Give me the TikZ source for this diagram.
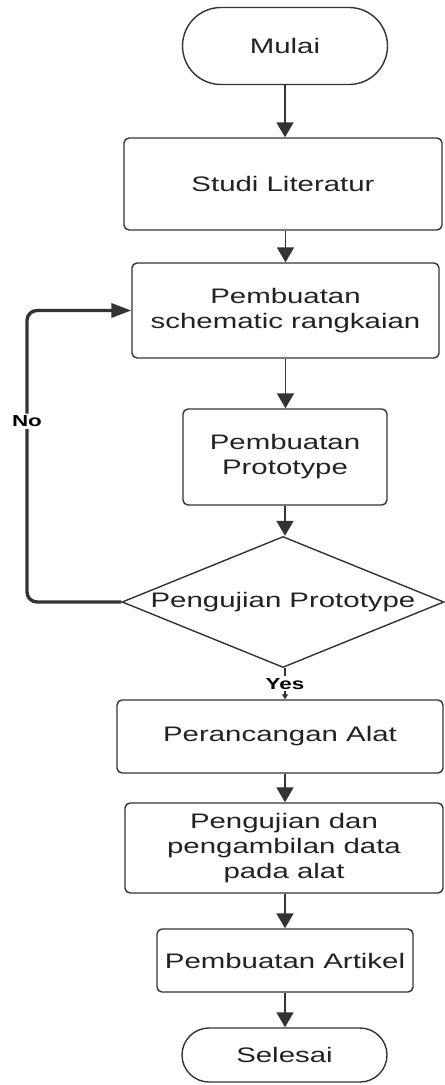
\documentclass[tikz,border=0pt]{standalone}
\usepackage{fontspec}
\setmainfont{Liberation Sans}[FakeStretch=1.4]
\usetikzlibrary{arrows.meta,shapes.geometric,shapes.misc}
\definecolor{flowline}{HTML}{333333}
\definecolor{flowtext}{HTML}{222222}
\tikzset{
  flowterm/.style={rounded rectangle,draw=flowline,line width=0.7pt,fill=white,text=flowtext,font=\fontsize{10.5}{12.5}\selectfont,inner sep=0pt},
  flowbox/.style={rectangle,draw=flowline,line width=0.7pt,rounded corners=2.5pt,fill=white,text=flowtext,font=\fontsize{10.5}{12.5}\selectfont,align=center,inner sep=0pt},
  flowdec/.style={diamond,aspect=2.46,draw=flowline,line width=0.7pt,fill=white,text=flowtext,font=\fontsize{10.5}{12.5}\selectfont,inner sep=0pt},
  flowarrow/.style={-{Triangle[length=7.5pt,width=8.5pt]},draw=flowline,line width=0.9pt},
  flowyes/.style={-{Triangle[length=2.5pt,width=3pt]},draw=flowline,line width=0.9pt},
  flowloop/.style={-{Triangle[length=10pt,width=7pt]},draw=flowline,line width=1.7pt,rounded corners=5pt},
  flowlabel/.style={fill=white,text=black,font=\fontsize{8}{9}\selectfont\bfseries,inner sep=1pt}
}

\begin{document}
\begin{tikzpicture}[x=0.5pt,y=-0.5pt]
\useasboundingbox (0,0) rectangle (444,1085);
\node[flowterm,minimum width=102.5pt,minimum height=38.5pt] (mulai) at (285,46) {Mulai};
\node[flowbox,minimum width=159pt,minimum height=46pt] (studi) at (283,184) {Studi Literatur};
\node[flowbox,minimum width=153.5pt,minimum height=47.5pt] (skema) at (285.5,310.5) {Pembuatan\\schematic rangkaian};
\node[flowbox,minimum width=102pt,minimum height=48pt] (proto) at (285,457) {Pembuatan\\Prototype};
\node[flowdec,minimum width=161pt,minimum height=65.5pt] (uji) at (283,602) {Pengujian Prototype};
\node[flowbox,minimum width=163pt,minimum height=36.5pt] (rancang) at (280,736.5) {Perancangan Alat};
\node[flowbox,minimum width=159pt,minimum height=45pt] (ambil) at (284,848) {Pengujian dan\\pengambilan data\\pada alat};
\node[flowbox,minimum width=128pt,minimum height=31.5pt] (artikel) at (285,960.5) {Pembuatan Artikel};
\node[flowterm,minimum width=102.5pt,minimum height=27pt] (selesai) at (284.5,1055) {Selesai};
\coordinate (loopx) at (27,602);
% main flow
\draw[flowarrow] (mulai.south) -- (mulai.south |- studi.north);
\draw[flowarrow] (studi.south -| skema.north) -- (skema.north);
\draw[flowarrow] (skema.south) -- (skema.south |- proto.north);
\draw[flowarrow] (proto.south) -- (uji.north -| proto.south);
\draw[flowyes] (uji.south -| proto.south) -- node[flowlabel]{Yes} (rancang.north -| proto.south);
\draw[flowarrow] (rancang.south -| proto.south) -- (ambil.north -| proto.south);
\draw[flowarrow] (ambil.south -| proto.south) -- (artikel.north -| proto.south);
\draw[flowarrow] (artikel.south -| proto.south) -- (selesai.north -| proto.south);
% back to schematic
\draw[flowloop] (uji.west) -- (loopx) |- node[flowlabel,pos=0.31]{No} (skema.west);
\end{tikzpicture}
\end{document}
